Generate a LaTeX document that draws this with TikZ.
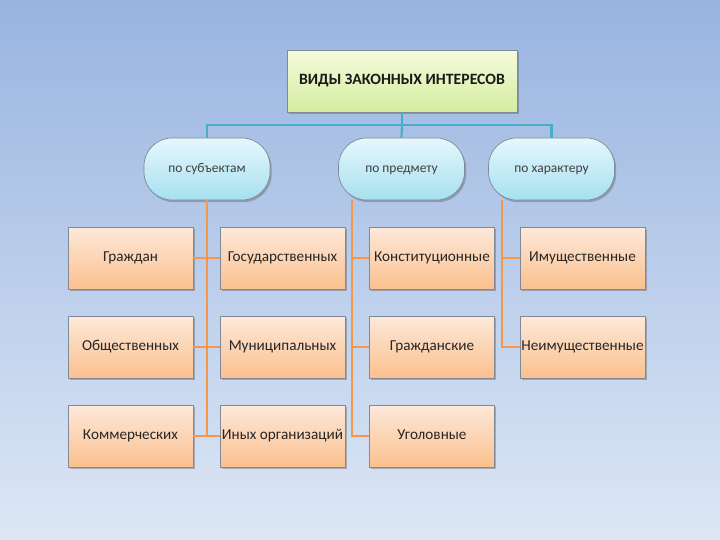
\documentclass[tikz,border=0pt]{standalone}
\usepackage{fontspec}
\setmainfont{Carlito}
\usetikzlibrary{shadows,calc}
\definecolor{bgtop}{HTML}{98B4E0}
\definecolor{bgbot}{HTML}{DDE7F5}
\definecolor{ttop}{HTML}{F4FBDC}
\definecolor{tbot}{HTML}{D3EDA0}
\definecolor{btop}{HTML}{E6F7FC}
\definecolor{bbot}{HTML}{A6E0F0}
\definecolor{otop}{HTML}{FDE9DA}
\definecolor{obot}{HTML}{FBC08E}
\definecolor{bline}{HTML}{4BACC6}
\definecolor{oline}{HTML}{F79646}
\definecolor{edge}{HTML}{7F8A96}
\tikzset{
  shad/.style={drop shadow={shadow xshift=1.2pt,shadow yshift=-1.5pt,opacity=0.35,fill=black!70}},
  titlebox/.style={shad,draw=edge,line width=0.5pt,top color=ttop,bottom color=tbot,
    minimum width=5.75cm,minimum height=1.55cm,font=\bfseries\fontsize{11.2}{13}\selectfont,text=black!90},
  groupbox/.style={shad,draw=edge,line width=0.5pt,top color=btop,bottom color=bbot,rounded corners=0.7cm,
    minimum width=3.15cm,minimum height=1.55cm,text height=1.6ex,text depth=0.5ex,
    font=\fontsize{9.6}{11}\selectfont,text=black!75},
  leafbox/.style={shad,draw=edge,line width=0.5pt,top color=otop,bottom color=obot,
    minimum width=3.125cm,minimum height=1.55cm,inner xsep=0pt,text height=1.6ex,text depth=0.5ex,
    font=\fontsize{10.8}{13}\selectfont,text=black!85},
  bconn/.style={bline,line width=1.5pt},
  oconn/.style={oline,line width=1.5pt}
}
\begin{document}
\begin{tikzpicture}
\useasboundingbox (0,0) rectangle (18,-13.5);
\shade[top color=bgtop,bottom color=bgbot] (0,0) rectangle (18,-13.5);
\coordinate (tj) at (10.05,-3.125);
\coordinate (k2) at (8.8,-4.225);
\coordinate (k3) at (12.55,-4.225);
% nodes
\node[titlebox] (t) at (10.05,-2.025) {ВИДЫ ЗАКОННЫХ ИНТЕРЕСОВ};
\node[groupbox] (s1) at (5.175,-4.225) {по субъектам};
\node[groupbox] (s2) at (10.0375,-4.225) {по предмету};
\node[groupbox] (s3) at (13.7875,-4.225) {по характеру};
\node[leafbox] (a1) at (3.2625,-6.45) {Граждан};
\node[leafbox] (a2) at (3.2625,-8.675) {Общественных};
\node[leafbox] (a3) at (3.2625,-10.9) {Коммерческих};
\node[leafbox] (b1) at (7.0625,-6.45) {Государственных};
\node[leafbox] (b2) at (7.0625,-8.675) {Муниципальных};
\node[leafbox] (b3) at (7.0625,-10.9) {Иных организаций};
\node[leafbox] (c1) at (10.8,-6.45) {Конституционные};
\node[leafbox] (c2) at (10.8,-8.675) {Гражданские};
\node[leafbox] (c3) at (10.8,-10.9) {Уголовные};
\node[leafbox] (d1) at (14.5625,-6.45) {Имущественные};
\node[leafbox] (d2) at (14.5625,-8.675) {Неимущественные};
% blue connectors
\draw[bconn] (t.south) -- (tj);
\draw[bconn] (tj) -| (s1.north);
\draw[bconn] (tj) -- (s2.north);
\draw[bconn] (tj) -| (s3.north);
% orange connectors
\draw[oconn] (s1.south) |- (b3.west);
\draw[oconn] (a1.east) -- (b1.west);
\draw[oconn] (a2.east) -- (b2.west);
\draw[oconn] (a3.east) -- (b3.west);
\draw[oconn] (k2 |- s2.south) |- (c3.west);
\draw[oconn] (k2 |- c1.west) -- (c1.west);
\draw[oconn] (k2 |- c2.west) -- (c2.west);
\draw[oconn] (k3 |- s3.south) |- (d2.west);
\draw[oconn] (k3 |- d1.west) -- (d1.west);
\end{tikzpicture}
\end{document}
